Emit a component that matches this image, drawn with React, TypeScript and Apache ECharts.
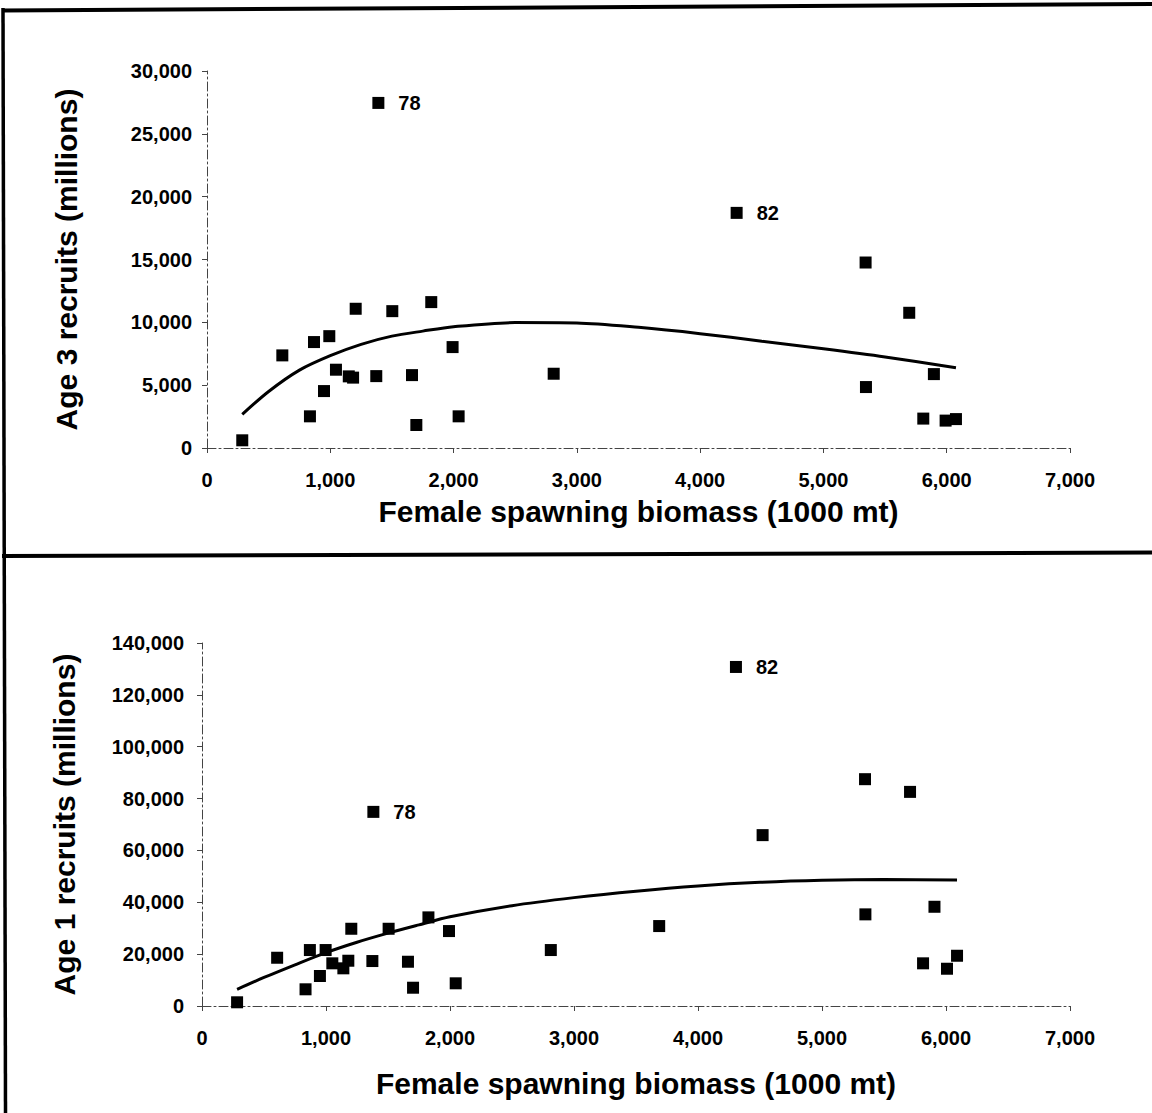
import React, { useEffect, useRef } from "react";
import * as echarts from "echarts";

// Top panel: Age 3 recruits vs female spawning biomass
const topSSB = [286, 611, 835, 868, 949, 992, 1046, 1150, 1185, 1206, 1373, 1390, 1503, 1663, 1698, 1819, 1992, 2041, 2812, 4296, 5342, 5345, 5696, 5810, 5896, 5991, 6075];
const topAge3 = [612, 7370, 2520, 8430, 4530, 8900, 6230, 5700, 5600, 11080, 5720, 27460, 10890, 5800, 1830, 11610, 8030, 2520, 5910, 18710, 14760, 4850, 10760, 2340, 5880, 2180, 2300];
const topYears = ["", "", "", "", "", "", "", "", "", "", "", "78", "", "", "", "", "", "", "", "82", "", "", "", "", "", "", ""];
const topCurveSSB = [286, 500, 750, 1000, 1250, 1500, 1750, 2000, 2500, 3000, 3500, 4000, 4500, 5000, 5500, 6075];
const topCurveAge3 = [2680, 4500, 6200, 7350, 8250, 8900, 9300, 9650, 9980, 9950, 9600, 9100, 8500, 7900, 7250, 6390];

// Bottom panel: Age 1 recruits vs female spawning biomass
const botSSB = [283, 606, 835, 870, 951, 997, 1051, 1140, 1180, 1204, 1374, 1382, 1505, 1661, 1702, 1826, 1992, 2046, 2813, 3687, 4306, 4521, 5347, 5350, 5710, 5815, 5907, 6008, 6089];
const botAge1 = [1430, 18610, 6440, 21580, 11560, 21580, 16460, 14530, 17460, 29790, 17340, 74870, 29790, 17070, 7050, 34180, 28900, 8750, 21580, 30830, 130760, 65900, 87480, 35340, 82580, 16460, 38270, 14370, 19380];
const botYears = ["", "", "", "", "", "", "", "", "", "", "", "78", "", "", "", "", "", "", "", "", "82", "", "", "", "", "", "", "", ""];
const botCurveSSB = [283, 500, 750, 1000, 1250, 1500, 1750, 2000, 2500, 3000, 3500, 4000, 4500, 5000, 5500, 6089];
const botCurveAge1 = [6440, 11000, 15900, 20600, 24600, 28100, 31300, 34400, 38700, 41800, 44300, 46300, 47700, 48500, 48800, 48550];

const xTitle = "Female spawning biomass (1000 mt)";
const topYTitle = "Age 3 recruits (millions)";
const botYTitle = "Age 1 recruits (millions)";

const FONT = "'Liberation Sans', Arial, Helvetica, sans-serif";
const AXIS_COLOR = "#444";

function fmt(v: number) {
  return v.toLocaleString("en-US");
}

function pointData(xs: number[], ys: number[], years: string[]) {
  return xs.map((x, i) =>
    years[i]
      ? {
          value: [x, ys[i]],
          label: {
            show: true,
            position: "right",
            distance: 14,
            formatter: years[i],
            fontFamily: FONT,
            fontWeight: "bold",
            fontSize: 20,
            color: "#000",
          },
        }
      : { value: [x, ys[i]] }
  );
}

function xAxis(gridIndex: number, nameGap: number) {
  return {
    type: "value",
    gridIndex,
    min: 0,
    max: 7000,
    interval: 1000,
    name: xTitle,
    nameLocation: "middle",
    nameGap,
    nameTextStyle: { fontFamily: FONT, fontWeight: "bold", fontSize: 30, color: "#000" },
    axisLine: { show: true, onZero: false, lineStyle: { color: AXIS_COLOR, width: 1, type: [9, 3, 2, 3] } },
    axisTick: { show: true, length: 5, lineStyle: { color: AXIS_COLOR } },
    axisLabel: { margin: 22, fontFamily: FONT, fontWeight: "bold", fontSize: 20, color: "#000", formatter: fmt },
    splitLine: { show: false },
  };
}

function yAxis(gridIndex: number, max: number, interval: number, name: string, nameGap: number, labelMargin: number) {
  return {
    type: "value",
    gridIndex,
    min: 0,
    max,
    interval,
    name,
    nameLocation: "middle",
    nameGap,
    nameTextStyle: { fontFamily: FONT, fontWeight: "bold", fontSize: 30, color: "#000" },
    axisLine: { show: true, onZero: false, lineStyle: { color: AXIS_COLOR, width: 1, type: [9, 3, 2, 3] } },
    axisTick: { show: true, length: 5, lineStyle: { color: AXIS_COLOR } },
    axisLabel: { margin: labelMargin, fontFamily: FONT, fontWeight: "bold", fontSize: 20, color: "#000", formatter: fmt },
    splitLine: { show: false },
  };
}

export default function App() {
  const ref = useRef<HTMLDivElement>(null);

  useEffect(() => {
    if (!ref.current) return;
    document.body.style.margin = "0";
    const chart = echarts.init(ref.current, undefined, { renderer: "svg" });
    chart.setOption({
      animation: false,
      backgroundColor: "#fff",
      grid: [
        { left: 207, top: 71, width: 863, height: 377 },
        { left: 202, top: 643, width: 868, height: 363 },
      ],
      xAxis: [xAxis(0, 48), xAxis(1, 62)],
      yAxis: [
        yAxis(0, 30000, 5000, topYTitle, 126, 15),
        yAxis(1, 140000, 20000, botYTitle, 123, 18),
      ],
      series: [
        {
          type: "scatter",
          xAxisIndex: 0,
          yAxisIndex: 0,
          symbol: "rect",
          symbolSize: 12,
          itemStyle: { color: "#000", opacity: 1 },
          data: pointData(topSSB, topAge3, topYears),
        },
        {
          type: "line",
          xAxisIndex: 0,
          yAxisIndex: 0,
          smooth: 0.3,
          showSymbol: false,
          lineStyle: { color: "#000", width: 3 },
          data: topCurveSSB.map((x, i) => [x, topCurveAge3[i]]),
        },
        {
          type: "scatter",
          xAxisIndex: 1,
          yAxisIndex: 1,
          symbol: "rect",
          symbolSize: 12,
          itemStyle: { color: "#000", opacity: 1 },
          data: pointData(botSSB, botAge1, botYears),
        },
        {
          type: "line",
          xAxisIndex: 1,
          yAxisIndex: 1,
          smooth: 0.3,
          showSymbol: false,
          lineStyle: { color: "#000", width: 3 },
          data: botCurveSSB.map((x, i) => [x, botCurveAge1[i]]),
        },
      ],
      graphic: [
        { type: "line", shape: { x1: 3, y1: 8, x2: 5.5, y2: 1113 }, style: { stroke: "#000", lineWidth: 3.5 } },
        { type: "line", shape: { x1: 2, y1: 10.5, x2: 1152, y2: 4 }, style: { stroke: "#000", lineWidth: 4 } },
        { type: "line", shape: { x1: 2, y1: 556, x2: 1152, y2: 552.5 }, style: { stroke: "#000", lineWidth: 4 } },
      ],
    });
    return () => chart.dispose();
  }, []);

  return (
    <div
      ref={ref}
      style={{ position: "absolute", left: 0, top: 0, width: 1152, height: 1113, background: "#fff" }}
    />
  );
}
